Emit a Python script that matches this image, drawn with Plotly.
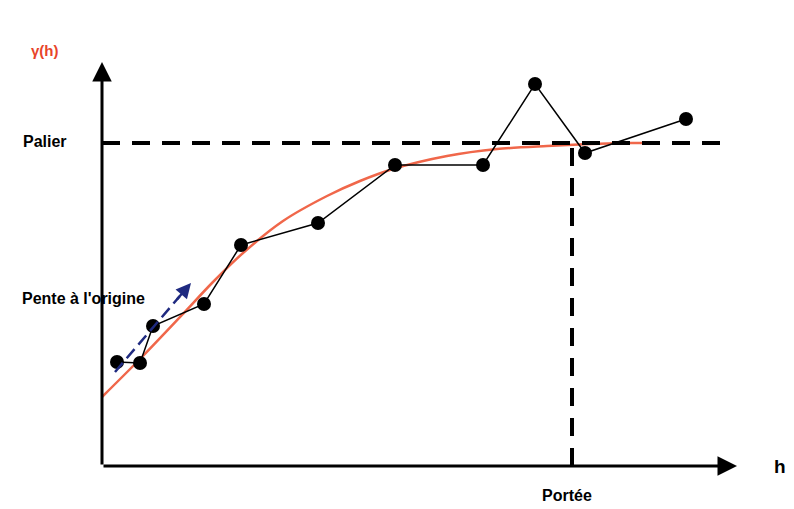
import plotly.graph_objects as go

# Experimental variogram points (h, gamma)
h_points = [15, 38, 51, 102, 139, 216, 293, 381, 433, 483, 584]
g_points = [104, 103, 140, 162, 221, 243, 301, 301, 382, 313, 347]

# Fitted model curve
h_model = [0, 40, 80, 110, 141, 181, 225, 258, 291, 345, 395, 445, 488, 528, 545]
g_model = [69, 109, 151, 183, 213, 245, 270, 285, 297, 310, 317, 320, 322, 323, 323]

sill = 323
range_h = 470
h_max = 635
g_max = 404
slope_start = (13, 94)
slope_end = (89, 183)

FONT = "Liberation Sans Narrow, Arial Narrow, Liberation Sans, sans-serif"

fig = go.Figure()

fig.add_trace(go.Scatter(x=h_model, y=g_model, mode="lines",
                         line=dict(color="#f0674a", width=2.5, shape="spline", smoothing=0.8),
                         hoverinfo="skip", showlegend=False))

fig.add_trace(go.Scatter(x=h_points, y=g_points, mode="lines+markers",
                         line=dict(color="black", width=1.5),
                         marker=dict(color="black", size=14),
                         showlegend=False))

# Sill dashed line
fig.add_shape(type="line", x0=0, x1=626, y0=sill, y1=sill,
              line=dict(color="black", width=4, dash="18px,12px"))
# Range dashed line
fig.add_shape(type="line", x0=range_h, x1=range_h, y0=0, y1=sill,
              line=dict(color="black", width=4, dash="18px,12px"))

# Axes with arrows
fig.add_annotation(x=h_max, y=0, ax=0, ay=0, xref="x", yref="y", axref="x", ayref="y",
                   text="", showarrow=True, arrowhead=2, arrowsize=1.3, arrowwidth=3,
                   arrowcolor="black")
fig.add_annotation(x=0, y=g_max, ax=0, ay=0, xref="x", yref="y", axref="x", ayref="y",
                   text="", showarrow=True, arrowhead=2, arrowsize=1.3, arrowwidth=3,
                   arrowcolor="black")

# Slope at origin arrow (dashed navy)
fig.add_shape(type="line", x0=slope_start[0], y0=slope_start[1],
              x1=slope_start[0] + (slope_end[0] - slope_start[0]) * 0.85,
              y1=slope_start[1] + (slope_end[1] - slope_start[1]) * 0.85,
              line=dict(color="#1f2a80", width=2.5, dash="12px,6px"))
fig.add_annotation(x=slope_end[0], y=slope_end[1],
                   ax=slope_start[0] + (slope_end[0] - slope_start[0]) * 0.8,
                   ay=slope_start[1] + (slope_end[1] - slope_start[1]) * 0.8,
                   xref="x", yref="y", axref="x", ayref="y",
                   text="", showarrow=True, arrowhead=2, arrowsize=1.2, arrowwidth=2.5,
                   arrowcolor="#1f2a80")

# Labels
fig.add_annotation(x=-57, y=416, text="<b>γ(h)</b>", showarrow=False,
                   font=dict(family=FONT, size=15, color="#e8442a"))
fig.add_annotation(x=-57, y=sill + 2, text="<b>Palier</b>", showarrow=False,
                   font=dict(family=FONT, size=16, color="black"))
fig.add_annotation(x=-19, y=168, text="<b>Pente à l'origine</b>", showarrow=False,
                   font=dict(family=FONT, size=16, color="black"))
fig.add_annotation(x=range_h - 5, y=-29, text="<b>Portée</b>", showarrow=False,
                   font=dict(family=FONT, size=16, color="black"))
fig.add_annotation(x=678, y=0, text="<b>h</b>", showarrow=False,
                   font=dict(family=FONT, size=19, color="black"))

fig.update_xaxes(range=[-102, 692], visible=False)
fig.update_yaxes(range=[-43, 466], visible=False)
fig.update_layout(width=794, height=509, margin=dict(l=0, r=0, t=0, b=0),
                  plot_bgcolor="white", paper_bgcolor="white", showlegend=False,
                  hovermode=False)

fig.write_html("out.html", config={"displayModeBar": False},
               post_script="document.body.style.margin='0';document.body.style.overflow='hidden';")
